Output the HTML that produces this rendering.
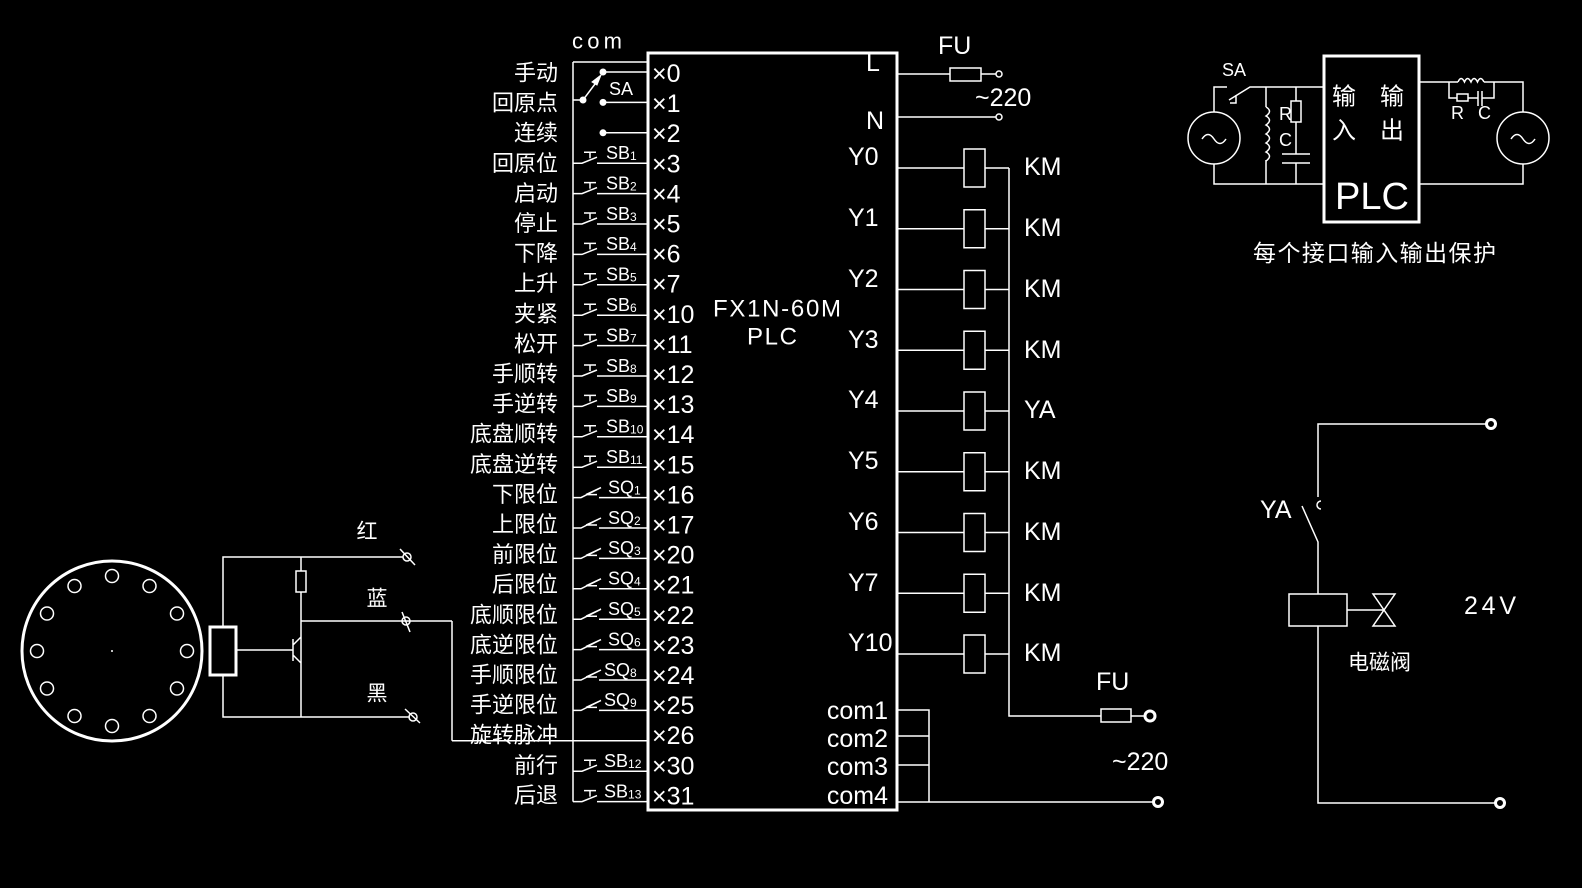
<!DOCTYPE html>
<html><head><meta charset="utf-8"><style>
html,body{margin:0;padding:0;background:#000;}
svg{display:block;}
text{fill:#fff;font-family:"Liberation Sans","Noto Sans CJK SC",sans-serif;dominant-baseline:central;}
.cn{font-size:22px;text-anchor:end;}
.x{font-size:25px;}
.s{font-size:18px;}
.sub{font-size:12px;}
</style></head><body>
<svg width="1582" height="888" viewBox="0 0 1582 888" xmlns="http://www.w3.org/2000/svg">
<defs>
<g id="sb" fill="none" stroke="#fff" stroke-width="1.5"><path d="M0,0 H9 L24,-6 M24,0 H75 M11,-11 H23 M17,-11 V-5"/></g>
<g id="sq" fill="none" stroke="#fff" stroke-width="1.5"><path d="M0,0 H8 L28,-10 M26,0 H75 M13,-3 L28,-10 M13,-3 L24,-3"/></g>
</defs>
<rect width="1582" height="888" fill="#000"/>
<g stroke="#fff" fill="none">
<rect x="648" y="53" width="249" height="757" stroke-width="3"/>
<path d="M573,62 H648 M573,62 V801.6" stroke-width="1.5"/>
<path d="M603,72 H648 M603,102.4 H648 M603,132.8 H648 M573,100 H583 L598,80" stroke-width="1.5"/>
<path d="M601,75 L592,82 L597,85 Z" fill="#fff" stroke-width="1"/>
</g>
<g fill="#fff"><circle cx="603" cy="72" r="3.5"/><circle cx="603" cy="102.4" r="3.5"/><circle cx="603" cy="132.8" r="3.5"/><circle cx="583" cy="100" r="3.5"/></g>
<use href="#sb" x="573" y="163.2"/><use href="#sb" x="573" y="193.6"/><use href="#sb" x="573" y="224"/><use href="#sb" x="573" y="254.4"/><use href="#sb" x="573" y="284.8"/><use href="#sb" x="573" y="315.2"/><use href="#sb" x="573" y="345.6"/><use href="#sb" x="573" y="376"/><use href="#sb" x="573" y="406.4"/><use href="#sb" x="573" y="436.8"/><use href="#sb" x="573" y="467.2"/>
<use href="#sq" x="573" y="497.6"/><use href="#sq" x="573" y="528"/><use href="#sq" x="573" y="558.4"/><use href="#sq" x="573" y="588.8"/><use href="#sq" x="573" y="619.2"/><use href="#sq" x="573" y="649.6"/><use href="#sq" x="573" y="680"/><use href="#sq" x="573" y="710.4"/>
<use href="#sb" x="573" y="771.2"/><use href="#sb" x="573" y="801.6"/>
<path d="M452,740.8 H648 M452,740.8 V621" stroke="#fff" stroke-width="1.5" fill="none"/>
<g class="cn">
<text x="558" y="73">手动</text><text x="558" y="103.1">回原点</text><text x="558" y="133.2">连续</text><text x="558" y="163.3">回原位</text><text x="558" y="193.4">启动</text><text x="558" y="223.5">停止</text><text x="558" y="253.6">下降</text><text x="558" y="283.7">上升</text><text x="558" y="313.8">夹紧</text><text x="558" y="343.9">松开</text><text x="558" y="374">手顺转</text><text x="558" y="404.1">手逆转</text><text x="558" y="434.2">底盘顺转</text><text x="558" y="464.3">底盘逆转</text><text x="558" y="494.4">下限位</text><text x="558" y="524.5">上限位</text><text x="558" y="554.6">前限位</text><text x="558" y="584.7">后限位</text><text x="558" y="614.8">底顺限位</text><text x="558" y="644.9">底逆限位</text><text x="558" y="675">手顺限位</text><text x="558" y="705.1">手逆限位</text><text x="558" y="735.2">旋转脉冲</text><text x="558" y="765.3">前行</text><text x="558" y="795.4">后退</text>
</g>
<g class="x">
<text x="652" y="74">×0</text><text x="652" y="104.1">×1</text><text x="652" y="134.2">×2</text><text x="652" y="164.3">×3</text><text x="652" y="194.4">×4</text><text x="652" y="224.5">×5</text><text x="652" y="254.6">×6</text><text x="652" y="284.7">×7</text><text x="652" y="314.8">×10</text><text x="652" y="344.9">×11</text><text x="652" y="375">×12</text><text x="652" y="405.1">×13</text><text x="652" y="435.2">×14</text><text x="652" y="465.3">×15</text><text x="652" y="495.4">×16</text><text x="652" y="525.5">×17</text><text x="652" y="555.6">×20</text><text x="652" y="585.7">×21</text><text x="652" y="615.8">×22</text><text x="652" y="645.9">×23</text><text x="652" y="676">×24</text><text x="652" y="706.1">×25</text><text x="652" y="736.2">×26</text><text x="652" y="766.3">×30</text><text x="652" y="796.4">×31</text>
</g>
<text x="572" y="41" style="font-size:22px" textLength="50">com</text>
<text x="609" y="89" class="s">SA</text>
<g class="s">
<text x="606" y="153">SB<tspan class="sub" dy="3">1</tspan></text>
<text x="606" y="183.4">SB<tspan class="sub" dy="3">2</tspan></text>
<text x="606" y="213.8">SB<tspan class="sub" dy="3">3</tspan></text>
<text x="606" y="244.2">SB<tspan class="sub" dy="3">4</tspan></text>
<text x="606" y="274.6">SB<tspan class="sub" dy="3">5</tspan></text>
<text x="606" y="305">SB<tspan class="sub" dy="3">6</tspan></text>
<text x="606" y="335.4">SB<tspan class="sub" dy="3">7</tspan></text>
<text x="606" y="365.8">SB<tspan class="sub" dy="3">8</tspan></text>
<text x="606" y="396.2">SB<tspan class="sub" dy="3">9</tspan></text>
<text x="606" y="426.6">SB<tspan class="sub" dy="3">10</tspan></text>
<text x="606" y="457">SB<tspan class="sub" dy="3">11</tspan></text>
<text x="608" y="487.4">SQ<tspan class="sub" dy="3">1</tspan></text>
<text x="608" y="517.8">SQ<tspan class="sub" dy="3">2</tspan></text>
<text x="608" y="548.2">SQ<tspan class="sub" dy="3">3</tspan></text>
<text x="608" y="578.6">SQ<tspan class="sub" dy="3">4</tspan></text>
<text x="608" y="609">SQ<tspan class="sub" dy="3">5</tspan></text>
<text x="608" y="639.4">SQ<tspan class="sub" dy="3">6</tspan></text>
<text x="604" y="669.8">SQ<tspan class="sub" dy="3">8</tspan></text>
<text x="604" y="700.2">SQ<tspan class="sub" dy="3">9</tspan></text>
<text x="604" y="761">SB<tspan class="sub" dy="3">12</tspan></text>
<text x="604" y="791.4">SB<tspan class="sub" dy="3">13</tspan></text>
</g>
<text x="713" y="309" style="font-size:24px" textLength="128">FX1N-60M</text>
<text x="747" y="337" style="font-size:24px" textLength="50">PLC</text>
<text x="866" y="63" class="x">L</text>
<text x="866" y="121" class="x">N</text>
<g stroke="#fff" stroke-width="1.5" fill="none">
<path d="M897,74 H950 M981,74 H996 M897,117 H996 M1009,168 V716 H1101 M1131,716 H1145 M897,710 H929 V802 M897,736 H929 M897,765 H929 M897,802 H1153"/>
<rect x="950" y="68" width="31" height="13"/>
<rect x="1101" y="709" width="30" height="13"/>
<path d="M897,168 H964 M985,168 H1009 M897,228.75 H964 M985,228.75 H1009 M897,289.5 H964 M985,289.5 H1009 M897,350.25 H964 M985,350.25 H1009 M897,411 H964 M985,411 H1009 M897,471.75 H964 M985,471.75 H1009 M897,532.5 H964 M985,532.5 H1009 M897,593.25 H964 M985,593.25 H1009 M897,654 H964 M985,654 H1009"/>
<rect x="964" y="149" width="21" height="38"/><rect x="964" y="209.75" width="21" height="38"/><rect x="964" y="270.5" width="21" height="38"/><rect x="964" y="331.25" width="21" height="38"/><rect x="964" y="392" width="21" height="38"/><rect x="964" y="452.75" width="21" height="38"/><rect x="964" y="513.5" width="21" height="38"/><rect x="964" y="574.25" width="21" height="38"/><rect x="964" y="635" width="21" height="38"/>
<circle cx="999" cy="74" r="3"/><circle cx="999" cy="117" r="3"/>
<circle cx="1150" cy="716" r="5" stroke-width="3"/><circle cx="1158" cy="802" r="4.5" stroke-width="3"/>
</g>
<text x="938" y="46" class="x">FU</text>
<text x="975" y="98" class="x">~220</text>
<text x="1096" y="682" class="x">FU</text>
<text x="1112" y="762" class="x">~220</text>
<g class="x">
<text x="848" y="157">Y0</text><text x="848" y="218">Y1</text><text x="848" y="279">Y2</text><text x="848" y="340">Y3</text><text x="848" y="400">Y4</text><text x="848" y="461">Y5</text><text x="848" y="522">Y6</text><text x="848" y="583">Y7</text><text x="848" y="643">Y10</text>
<text x="1024" y="167">KM</text><text x="1024" y="228">KM</text><text x="1024" y="289">KM</text><text x="1024" y="350">KM</text><text x="1024" y="410">YA</text><text x="1024" y="471">KM</text><text x="1024" y="532">KM</text><text x="1024" y="593">KM</text><text x="1024" y="653">KM</text>
</g>
<g class="x" style="text-anchor:end">
<text x="888" y="711">com1</text><text x="888" y="739">com2</text><text x="888" y="767">com3</text><text x="888" y="796">com4</text>
</g>
<g stroke="#fff" fill="none">
<circle cx="112" cy="651" r="90" stroke-width="3"/>
<g stroke-width="1.5">
<circle cx="112" cy="576" r="6.5"/><circle cx="149.5" cy="586" r="6.5"/><circle cx="177" cy="613.5" r="6.5"/><circle cx="187" cy="651" r="6.5"/><circle cx="177" cy="688.5" r="6.5"/><circle cx="149.5" cy="716" r="6.5"/><circle cx="112" cy="726" r="6.5"/><circle cx="74.5" cy="716" r="6.5"/><circle cx="47" cy="688.5" r="6.5"/><circle cx="37" cy="651" r="6.5"/><circle cx="47" cy="613.5" r="6.5"/><circle cx="74.5" cy="586" r="6.5"/>
</g>
<rect x="210" y="627" width="26" height="48" stroke-width="3"/>
<path d="M223,627 V557 H403 M223,675 V717 H410 M301,557 V571 M301,592 V717 M301,621 H452 M236,650 H293 M293,639 V661 M293,645 L301,637 M293,655 L301,663" stroke-width="1.5"/>
<rect x="296" y="571" width="10" height="21" stroke-width="1.5"/>
<g stroke-width="1.5"><circle cx="407" cy="557" r="4"/><path d="M400,549 L415,565"/><circle cx="406" cy="621" r="4"/><path d="M402,612 L410,632"/><circle cx="413" cy="717" r="4"/><path d="M405,709 L420,723"/></g>
</g>
<circle cx="112" cy="651" r="1" fill="#fff"/>
<g style="font-size:21px;text-anchor:middle">
<text x="367" y="532">红</text><text x="377" y="599">蓝</text><text x="377" y="694">黑</text>
</g>
<g stroke="#fff" fill="none" stroke-width="1.5">
<rect x="1324" y="56" width="95" height="166" stroke-width="3"/>
<circle cx="1214" cy="138" r="26"/><circle cx="1523" cy="138" r="26"/>
<path d="M1202,139 q6,-9 12,0 q6,9 12,0 M1511,139 q6,-9 12,0 q6,9 12,0"/>
<path d="M1214,112 V87 H1227 M1229,100 L1250,87 H1324 M1236,95 V103 H1230 M1214,164 V184 H1324 M1266,87 V107 M1266,160 V184 M1296,87 V101 M1296,122 V154 M1282,154 H1310 M1282,163 H1310 M1296,163 V184"/>
<path d="M1266,107 q7,4 0,9 q7,4 0,9 q7,4 0,9 q7,4 0,9 q7,4 0,9 q7,4 0,9"/>
<rect x="1291" y="101" width="10" height="21"/>
<path d="M1419,82 H1458 M1484,82 H1523 V112 M1523,164 V184 H1419 M1449,82 V98 H1457 M1468,98 H1478 M1478,91 V106 M1482,91 V106 M1482,98 H1494 V82"/>
<path d="M1458,82 q3,-7 6.5,0 q3,-7 6.5,0 q3,-7 6.5,0 q3,-7 6.5,0"/>
<rect x="1457" y="94" width="11" height="7"/>
</g>
<text x="1222" y="70" class="s">SA</text>
<text x="1279" y="114" class="s">R</text><text x="1279" y="140" class="s">C</text>
<text x="1451" y="113" class="s">R</text><text x="1478" y="113" class="s">C</text>
<g style="font-size:24px"><text x="1332" y="97">输</text><text x="1332" y="131">入</text><text x="1380" y="97">输</text><text x="1380" y="131">出</text></g>
<text x="1335" y="197" style="font-size:38px">PLC</text>
<text x="1253" y="253" style="font-size:23px" textLength="243">每个接口输入输出保护</text>
<g stroke="#fff" fill="none" stroke-width="1.5">
<path d="M1318,497 V424 H1487 M1302,506 L1318,542 V594 M1318,626 V803 H1496 M1347,610 H1383 M1373,594 H1395 L1373,626 H1395 Z"/>
<path d="M1321,501 a4,4 0 0 0 0,8"/>
<rect x="1289" y="594" width="58" height="32"/>
<circle cx="1491" cy="424" r="4.5" stroke-width="3"/><circle cx="1500" cy="803" r="4.5" stroke-width="3"/>
</g>
<text x="1260" y="510" class="x">YA</text>
<text x="1464" y="606" class="x" textLength="52">24V</text>
<text x="1348" y="663" style="font-size:21px">电磁阀</text>
</svg>
</body></html>
